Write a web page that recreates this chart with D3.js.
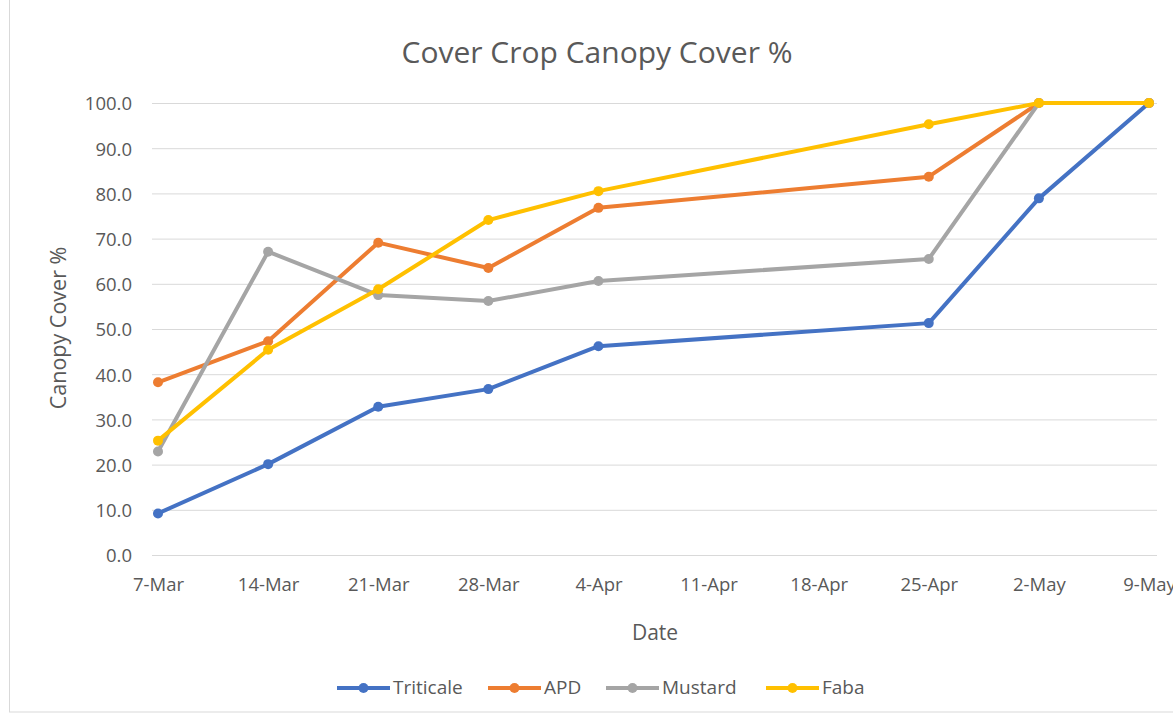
<!DOCTYPE html>
<html><head><meta charset="utf-8">
<script src="https://cdn.jsdelivr.net/npm/d3@7"></script>
<style>body{margin:0;background:#fff;font-family:"Open Sans","Noto Sans",sans-serif;}</style>
</head><body><svg id="c" width="1173" height="717"></svg>
<script>
const dates = ["2019-03-07","2019-03-14","2019-03-21","2019-03-28","2019-04-04","2019-04-25","2019-05-02","2019-05-09"];
const triticale = [9.2, 20.1, 32.8, 36.7, 46.2, 51.3, 78.9, 100];
const apd = [38.2, 47.3, 69.1, 63.5, 76.8, 83.7, 100, 100];
const mustard = [22.9, 67.1, 57.5, 56.2, 60.6, 65.5, 100, 100];
const faba = [25.3, 45.4, 58.8, 74.1, 80.5, 95.3, 100, 100];
const seriesNames = ["Triticale", "APD", "Mustard", "Faba"];
const colors = ["#4472C4", "#ED7D31", "#A5A5A5", "#FFC000"];
const yTicks = [0,10,20,30,40,50,60,70,80,90,100];
const xTickStart = "2019-03-07", xTickEnd = "2019-05-09";

const parse = d3.timeParse("%Y-%m-%d");
const svg = d3.select("#c");
const series = [triticale, apd, mustard, faba].map((vals, i) => ({
  name: seriesNames[i], color: colors[i],
  pts: vals.map((v, j) => ({d: parse(dates[j]), v}))
}));

// chart border
svg.append("rect").attr("x", 9.5).attr("y", -1).attr("width", 1180).attr("height", 713)
  .attr("fill", "none").attr("stroke", "#d9d9d9");

const x = d3.scaleTime().domain([parse(xTickStart), parse(xTickEnd)]).range([158, 1149]);
const y = d3.scaleLinear().domain([0, 100]).range([555, 103]);

// gridlines
const gridLeft = 152, gridRight = 1157;
svg.append("g").selectAll("line").data(yTicks).join("line")
  .attr("x1", gridLeft).attr("x2", gridRight)
  .attr("y1", d => y(d) + 0.5).attr("y2", d => y(d) + 0.5)
  .attr("stroke", "#d9d9d9").attr("stroke-width", 1);

// y axis
const yAxis = d3.axisLeft(y).tickValues(yTicks).tickFormat(d3.format(".1f")).tickSize(0).tickPadding(0);
const gy = svg.append("g").attr("transform", "translate(132,1)").call(yAxis);
gy.select(".domain").remove();
gy.selectAll("text").attr("fill", "#595959").attr("font-size", 18.5).attr("font-family", "Open Sans, sans-serif");

// x axis
const weekly = d3.range(10).map(i => d3.timeDay.offset(parse(xTickStart), i * 7));
const xAxis = d3.axisBottom(x).tickValues(weekly).tickFormat(d => d3.timeFormat("%-d-%b")(d)).tickSize(0).tickPadding(0);
const gx = svg.append("g").attr("transform", "translate(0,591)").call(xAxis);
gx.select(".domain").remove();
gx.selectAll("text").attr("dy", 0).attr("fill", "#595959").attr("font-size", 18.5).attr("font-family", "Open Sans, sans-serif");

// lines
const line = d3.line().x(p => x(p.d)).y(p => y(p.v));
series.forEach(s => {
  svg.append("path").datum(s.pts).attr("d", line).attr("fill", "none")
    .attr("stroke", s.color).attr("stroke-width", 4).attr("stroke-linejoin", "round").attr("stroke-linecap", "round");
  svg.append("g").selectAll("circle").data(s.pts).join("circle")
    .attr("cx", p => x(p.d)).attr("cy", p => y(p.v)).attr("r", 5).attr("fill", s.color);
});

// title
svg.append("text").attr("x", 597).attr("y", 63).attr("text-anchor", "middle")
  .attr("font-size", 30).attr("fill", "#595959").text("Cover Crop Canopy Cover %");
// axis titles
svg.append("text").attr("transform", "translate(66,328) rotate(-90)").attr("text-anchor", "middle")
  .attr("font-size", 21.5).attr("fill", "#595959").text("Canopy Cover %");
svg.append("text").attr("x", 655).attr("y", 640).attr("text-anchor", "middle")
  .attr("font-size", 21).attr("fill", "#595959").text("Date");

// legend
const legendX = [337, 488, 606, 766];
const lg = svg.append("g");
series.forEach((s, i) => {
  const g = lg.append("g").attr("transform", `translate(${legendX[i]},688)`);
  g.append("line").attr("x1", 0).attr("x2", 53).attr("y1", 0).attr("y2", 0)
    .attr("stroke", s.color).attr("stroke-width", 4);
  g.append("circle").attr("cx", 26.5).attr("cy", 0).attr("r", 5).attr("fill", s.color);
  g.append("text").attr("x", 56).attr("y", 6).attr("font-size", 19).attr("fill", "#595959").text(s.name);
});
</script></body></html>
